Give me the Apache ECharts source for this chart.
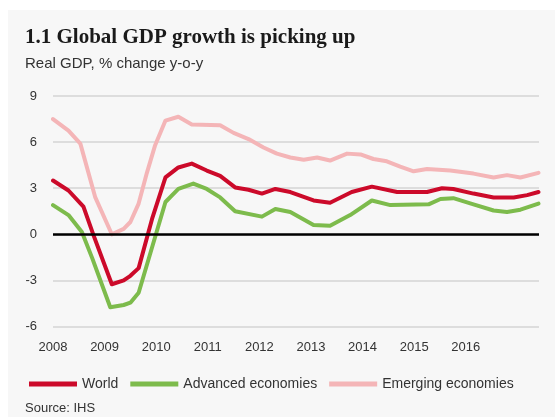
<!DOCTYPE html>
<html>
<head>
<meta charset="utf-8">
<script src="https://cdn.jsdelivr.net/npm/echarts@6/dist/echarts.min.js"></script>
<style>
  html, body { margin: 0; padding: 0; background: #ffffff; }
  #chart { width: 555px; height: 417px; }
</style>
</head>
<body>
<div id="chart"></div>
<script>
// Real GDP growth, % change y-o-y, as [decimal year, value] pairs
const worldPts = [
  [2008.00, 3.5], [2008.30, 2.85], [2008.59, 1.8], [2008.79, -0.1], [2009.14, -3.25],
  [2009.37, -3.0], [2009.50, -2.7], [2009.66, -2.2], [2009.92, 1.0], [2010.18, 3.7],
  [2010.43, 4.35], [2010.69, 4.6], [2010.98, 4.15], [2011.24, 3.8], [2011.53, 3.05],
  [2011.79, 2.9], [2012.05, 2.65], [2012.31, 2.95], [2012.60, 2.75], [2013.05, 2.2],
  [2013.37, 2.05], [2013.79, 2.75], [2014.18, 3.1], [2014.67, 2.75], [2015.25, 2.75],
  [2015.54, 3.0], [2015.76, 2.95], [2016.15, 2.65], [2016.54, 2.4], [2016.93, 2.4],
  [2017.19, 2.55], [2017.41, 2.75]
];
const advancedPts = [
  [2008.00, 1.9], [2008.30, 1.25], [2008.56, 0.15], [2008.76, -1.55], [2009.11, -4.75],
  [2009.37, -4.6], [2009.50, -4.45], [2009.66, -3.8], [2010.18, 2.1], [2010.43, 2.95],
  [2010.72, 3.3], [2010.98, 2.95], [2011.24, 2.4], [2011.53, 1.5], [2012.05, 1.15],
  [2012.31, 1.65], [2012.60, 1.45], [2013.05, 0.6], [2013.37, 0.55], [2013.76, 1.25],
  [2014.18, 2.2], [2014.54, 1.9], [2015.28, 1.95], [2015.51, 2.3], [2015.76, 2.35],
  [2016.15, 1.95], [2016.54, 1.55], [2016.80, 1.45], [2017.06, 1.6], [2017.41, 2.0]
];
const emergingPts = [
  [2008.00, 7.5], [2008.30, 6.75], [2008.53, 5.9], [2008.82, 2.4], [2009.14, 0.0],
  [2009.37, 0.35], [2009.50, 0.8], [2009.66, 2.0], [2009.82, 4.0], [2009.98, 5.8],
  [2010.18, 7.4], [2010.43, 7.65], [2010.69, 7.15], [2011.24, 7.1], [2011.50, 6.6],
  [2011.79, 6.2], [2012.08, 5.65], [2012.34, 5.25], [2012.60, 5.0], [2012.86, 4.85],
  [2013.12, 5.0], [2013.37, 4.8], [2013.70, 5.25], [2013.96, 5.2], [2014.21, 4.9],
  [2014.47, 4.75], [2014.73, 4.4], [2014.99, 4.1], [2015.25, 4.25], [2015.70, 4.15],
  [2016.15, 3.95], [2016.54, 3.7], [2016.80, 3.85], [2017.06, 3.7], [2017.41, 4.0]
];
const seriesNames = ['World', 'Advanced economies', 'Emerging economies'];
const seriesColors = ['#cc0a2a', '#7dbb4c', '#f4b5b7'];
const yearLabels = ['2008', '2009', '2010', '2011', '2012', '2013', '2014', '2015', '2016'];
const yTicks = { min: -6, max: 9, step: 3 };

const sans = "'Liberation Sans Narrow', 'Liberation Sans', Arial, sans-serif";

const chart = echarts.init(document.getElementById('chart'), null, { renderer: 'canvas' });

function lineSeries(name, data, color, z) {
  return {
    name: name,
    type: 'line',
    data: data,
    showSymbol: false,
    symbol: 'none',
    z: z,
    lineStyle: { color: color, width: 4, join: 'round', cap: 'round' },
    itemStyle: { color: color }
  };
}

chart.setOption({
  animation: false,
  backgroundColor: '#ffffff',
  graphic: [
    {
      type: 'rect', z: -10, silent: true,
      shape: { x: 8, y: 10, width: 560, height: 420 },
      style: { fill: '#f7f7f7' }
    },
    {
      type: 'text', left: 25, top: 27, silent: true,
      style: {
        text: '1.1 Global GDP growth is picking up',
        font: "bold 21px 'Liberation Serif', 'DejaVu Serif', serif",
        fill: '#1a1a1a'
      }
    },
    {
      type: 'text', left: 25, top: 56, silent: true,
      style: { text: 'Real GDP, % change y-o-y', font: '15px ' + sans, fill: '#333333' }
    },
    {
      type: 'text', left: 25, top: 402, silent: true,
      style: { text: 'Source: IHS', font: '13px ' + sans, fill: '#333333' }
    }
  ],
  grid: { left: 53, right: 16, top: 96, bottom: 90.5, containLabel: false },
  legend: {
    left: 24, top: 372,
    itemWidth: 48, itemHeight: 5, itemGap: 12,
    icon: 'rect',
    textStyle: { fontFamily: sans, fontSize: 14, color: '#333333' },
    data: seriesNames
  },
  xAxis: {
    type: 'value',
    min: 2008, max: 2017.42, interval: 1,
    axisLine: { show: false },
    axisTick: { show: false },
    splitLine: { show: false },
    axisLabel: {
      show: true, margin: 14,
      fontFamily: sans, fontSize: 13, color: '#333333',
      showMaxLabel: false,
      formatter: function (v) {
        const i = Math.round(v) - 2008;
        return (i >= 0 && i < yearLabels.length) ? yearLabels[i] : '';
      }
    }
  },
  yAxis: {
    type: 'value',
    min: yTicks.min, max: yTicks.max, interval: yTicks.step,
    axisLine: { show: false },
    axisTick: { show: false },
    axisLabel: { margin: 16, fontFamily: sans, fontSize: 13, color: '#333333' },
    splitLine: { show: true, lineStyle: { color: '#d4d4d4', width: 1.5 } }
  },
  series: [
    {
      type: 'line', data: [], silent: true, z: 1,
      markLine: {
        silent: true, symbol: 'none', animation: false,
        label: { show: false },
        lineStyle: { color: '#000000', width: 2.5, type: 'solid' },
        data: [{ yAxis: 0 }]
      }
    },
    lineSeries(seriesNames[2], emergingPts, seriesColors[2], 2),
    lineSeries(seriesNames[1], advancedPts, seriesColors[1], 3),
    lineSeries(seriesNames[0], worldPts, seriesColors[0], 4)
  ]
});
</script>
</body>
</html>
